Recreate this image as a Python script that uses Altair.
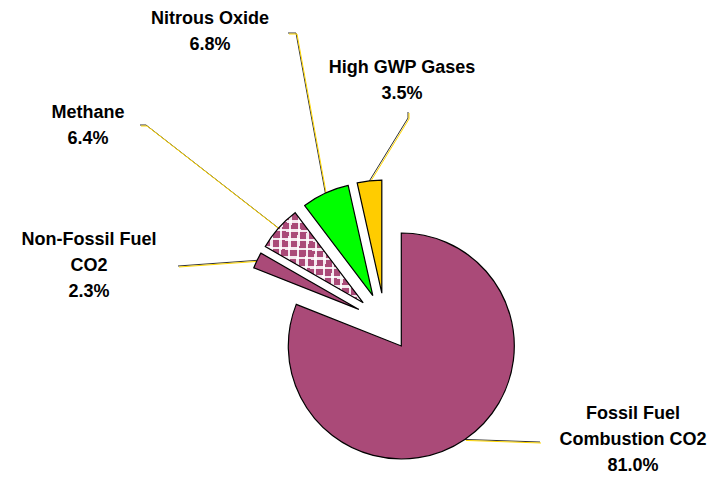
import math
import numpy as np
import pandas as pd
import altair as alt

# ---- data ----
categories = ["Fossil Fuel Combustion CO2", "Non-Fossil Fuel CO2", "Methane",
              "Nitrous Oxide", "High GWP Gases"]
values = [81.0, 2.3, 6.4, 6.8, 3.5]
label_lines = [["Fossil Fuel", "Combustion CO2"], ["Non-Fossil Fuel", "CO2"],
               ["Methane"], ["Nitrous Oxide"], ["High GWP Gases"]]
colors = ["#AA4A78", "#AA4A78", "#AA4A78", "#00FF00", "#FFCC00"]

# ---- layout (page pixels, minus the 8px page margin) ----
M = 8
W, H = 719 - 2 * M, 484 - 2 * M
CX, CY = 385 - M, 322 - M
EXPLODE = 29
R = 113
LABEL_XY = [(633, 419), (89, 245), (88, 118), (210, 24), (402, 73)]
ELBOWS = [[(540, 442)], [(178, 266)], [(146, 125), (140, 125)],
          [(296, 33), (288, 33)], [(408, 118), (408, 112)]]

vals = np.array(values)
ends = np.cumsum(vals)
starts = ends - vals
total = float(vals.sum())
mids = (starts + vals / 2) / total * 2 * math.pi
cx = CX + EXPLODE * np.sin(mids)
cy = CY - EXPLODE * np.cos(mids)

pie = pd.DataFrame({"category": categories, "value": values, "start": starts,
                    "end": ends, "cx": cx, "cy": cy})

labels = pd.DataFrame({
    "category": categories,
    "text": ["\n".join(l + [f"{v:.1f}%"]) for l, v in zip(label_lines, values)],
    "x": [p[0] - M for p in LABEL_XY],
    "y": [p[1] - M for p in LABEL_XY],
})

rows = []
for i, c in enumerate(categories):
    ax = cx[i] + R * math.sin(mids[i])
    ay = cy[i] - R * math.cos(mids[i])
    pts = [(ax, ay)] + [(px - M, py - M) for px, py in ELBOWS[i]]
    for k, (px, py) in enumerate(pts):
        rows.append({"category": c, "k": k, "x": px, "y": py})
leaders = pd.DataFrame(rows)

theta_scale = alt.Scale(domain=[0, total], range=[0, 2 * math.pi])
xs = alt.X("cx:Q", scale=None, axis=None)
ys = alt.Y("cy:Q", scale=None, axis=None)
color = alt.Color("category:N", scale=alt.Scale(domain=categories, range=colors), legend=None)

base = alt.Chart(pie).encode(
    theta=alt.Theta("start:Q", scale=theta_scale), theta2="end:Q", x=xs, y=ys)

fill_layer = base.mark_arc(radius=R, stroke=None).encode(color=color)


def stripes(x2, y2, n):
    clear, white = "rgba(255,255,255,0)", "rgba(255,255,255,0.88)"
    stops = []
    for k in range(n):
        stops += [alt.GradientStop(offset=k / n, color=clear),
                  alt.GradientStop(offset=(k + 0.72) / n, color=clear),
                  alt.GradientStop(offset=(k + 0.72) / n, color=white),
                  alt.GradientStop(offset=(k + 1) / n, color=white)]
    return alt.LinearGradient(gradient="linear", stops=stops, x1=0, y1=0, x2=x2, y2=y2)


methane = base.transform_filter(alt.datum.category == "Methane")
hatch_v = methane.mark_arc(radius=R, stroke=None, fill=stripes(1, 0.04, 11))
hatch_h = methane.mark_arc(radius=R, stroke=None, fill=stripes(-0.04, 1, 10))

outline = base.mark_arc(radius=R, fillOpacity=0, stroke="#000000", strokeWidth=1.2,
                        strokeJoin="miter")

lead_enc = dict(x=alt.X("x:Q", scale=None, axis=None), y=alt.Y("y:Q", scale=None, axis=None),
                detail="category:N", order="k:Q")
lead_dark = alt.Chart(leaders).mark_line(color="#333333", strokeWidth=1).encode(**lead_enc)
lead_yel = alt.Chart(leaders).mark_line(color="#FFD700", strokeWidth=1, xOffset=1,
                                        yOffset=1).encode(**lead_enc)

text = alt.Chart(labels).mark_text(font="Liberation Sans", fontSize=18, fontWeight="bold",
                                   align="center", baseline="alphabetic", lineBreak="\n",
                                   lineHeight=26, color="#000000").encode(
    x=alt.X("x:Q", scale=None, axis=None), y=alt.Y("y:Q", scale=None, axis=None),
    text="text:N")

chart = alt.layer(lead_dark, lead_yel, fill_layer, hatch_v, hatch_h, outline, text).properties(
    width=W, height=H, padding=0,
    autosize=alt.AutoSizeParams(type="none"),
).configure_view(stroke=None)

chart.save("out.html", embed_options={"renderer": "svg", "actions": False})
